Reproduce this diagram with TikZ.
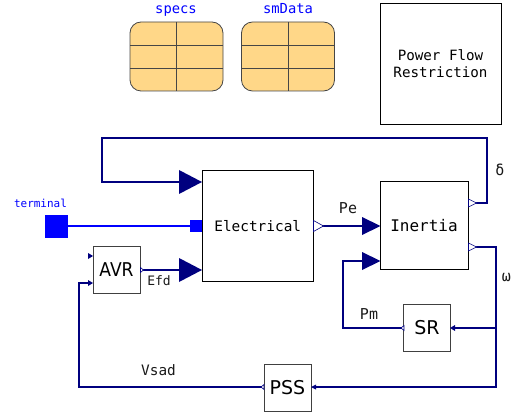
\documentclass[tikz,border=0pt]{standalone}
\usepackage{fontspec}
\usepackage{graphicx}
\setmainfont{DejaVu Sans}
\setmonofont{DejaVu Sans Mono}
\definecolor{navyc}{RGB}{0,0,127}
\definecolor{bluec}{RGB}{0,0,255}
\definecolor{tabfill}{RGB}{255,215,136}
\definecolor{tabline}{RGB}{70,70,70}
\newcommand{\fsz}[1]{\fontsize{#1}{#1}\selectfont}
\tikzset{
  blockbox/.style={draw=black,line width=0.9pt,fill=white,inner sep=0pt,outer sep=0pt},
  smallbox/.style={blockbox,draw=black!75,minimum width=47pt,minimum height=46.5pt,font=\fsz{19}},
  lbl/.style={inner sep=0pt,anchor=base,text=black!90,font=\ttfamily\fsz{14.4}},
  blbl/.style={inner sep=0pt,anchor=base,text=bluec,font=\ttfamily\fsz{13.8}},
  conn/.style={draw=navyc,line width=2.5pt,line join=miter},
  bigin/.style={fill=navyc,draw=none},
  hollow/.style={fill=white,draw=navyc,line width=0.6pt},
  tabcell/.style={draw=tabline,line width=0.8pt},
}
\begin{document}
\begin{tikzpicture}[x=1pt,y=-1pt]
\useasboundingbox (0,0) rectangle (519,414);
% data tables
\foreach \xa in {130,241.5}{
  \draw[tabcell,rounded corners=11pt,fill=tabfill] (\xa,22) rectangle ++(93,69);
  \draw[tabcell] (\xa,45) -- ++(93,0) (\xa,68) -- ++(93,0) (\xa+46.5,22) -- ++(0,69);
}
\node[blbl] (specslbl) at (176,14) {specs};
\node[blbl] (smlbl) at (288,14) {smData};
% restriction
\node[blockbox,minimum width=121pt,minimum height=121pt,align=center,font=\ttfamily\fsz{14.2}] (pfr) at (440.5,63.5) {Power Flow\\[3pt]Restriction};
% blocks
\node[blockbox,minimum width=111.5pt,minimum height=111pt,font=\ttfamily\fsz{14.4}] (elec) at (257.75,226) {Electrical};
\node[blockbox,minimum width=88pt,minimum height=87.5pt,font=\ttfamily\fsz{16}] (inertia) at (424,225.5) {Inertia};
\node[smallbox] (avr) at (116.5,270) {\scalebox{0.9}[1]{AVR}};
\node[smallbox] (sr) at (427,328) {SR};
\node[smallbox] (pss) at (287.5,388) {PSS};
% ports
\node[fill=bluec,minimum size=23pt,inner sep=0pt] (term) at (56,226) {};
\node[fill=bluec,minimum size=11.5pt,inner sep=0pt,anchor=east] (eterm) at (202,226) {};
\coordinate (dout) at (468,203);
\coordinate (wout) at (468,247);
\coordinate (peout) at (313.5,226);
\coordinate (efdout) at (140,270);
\coordinate (dturn) at (487,138);
\coordinate (dleft) at (102,138);
\coordinate (wturn) at (496,247);
\coordinate (wdown) at (496,387);
\coordinate (wsr) at (496,328);
\coordinate (srbend) at (343,328);
\coordinate (srup) at (343,261);
\coordinate (vbend) at (79,387);
\coordinate (vup) at (79,283);
% connectors
\draw[conn] (dout) -- (dturn |- dout) -- (dturn) -- (dleft) -- (102,182) -- (182,182);
\draw[conn] (wout) -- (wturn) -- (wdown) -- (315,387);
\draw[conn] (wsr) -- (455,328);
\draw[conn] (sr.west) -- (srbend) -- (srup) -- (365,261);
\draw[conn] (peout) -- (365,226);
\draw[conn] (efdout) -- (182,270);
\draw[conn] (pss.west |- 0,387) -- (vbend) -- (vup) -- (88,283);
\draw[draw=bluec,line width=2.5pt] (term.east) -- (eterm.west);
% input arrowheads
\fill[bigin] (202,182) -- (179,170) -- (179,194) -- cycle;
\fill[bigin] (202,270) -- (179,258) -- (179,282) -- cycle;
\fill[bigin] (380.5,226) -- (362,217) -- (362,235) -- cycle;
\fill[bigin] (380.5,261) -- (362,252) -- (362,270) -- cycle;
\fill[bigin] (93,283) -- (88,280) -- (88,286) -- cycle;
\fill[bigin] (93,256) -- (88,253) -- (88,259) -- cycle;
\fill[bigin] (450,328) -- (455,325) -- (455,331) -- cycle;
\fill[bigin] (311,387) -- (316,384.5) -- (316,389.5) -- cycle;
% output arrowheads
\draw[hollow] (313.5,220.5) -- (323.5,226) -- (313.5,231.5) -- cycle;
\draw[hollow] (468.5,199) -- (476.5,203) -- (468.5,207) -- cycle;
\draw[hollow] (468.5,243) -- (476.5,247) -- (468.5,251) -- cycle;
\draw[hollow] (140.5,267.5) -- (143.5,270) -- (140.5,272.5) -- cycle;
\draw[hollow] (404,325.5) -- (401,328) -- (404,330.5) -- cycle;
\draw[hollow] (264,384.5) -- (261,387) -- (264,389.5) -- cycle;
% labels
\node[blbl,font=\ttfamily\fsz{11}] (tlbl) at (40.5,207.5) {terminal};
\node[lbl,font=\ttfamily\fsz{13}] (efd) at (159,285.5) {Efd};
\node[lbl,font=\ttfamily\fsz{15}] (pe) at (348,214) {Pe};
\node[lbl,font=\ttfamily\fsz{15}] (pm) at (369,319) {Pm};
\node[lbl] (vsad) at (158.5,375) {Vsad};
\node[lbl,font=\ttfamily\fsz{15}] (delta) at (500,176) {δ};
\node[lbl,font=\ttfamily\fsz{15}] (omega) at (506.5,281.5) {ω};
\end{tikzpicture}
\end{document}
